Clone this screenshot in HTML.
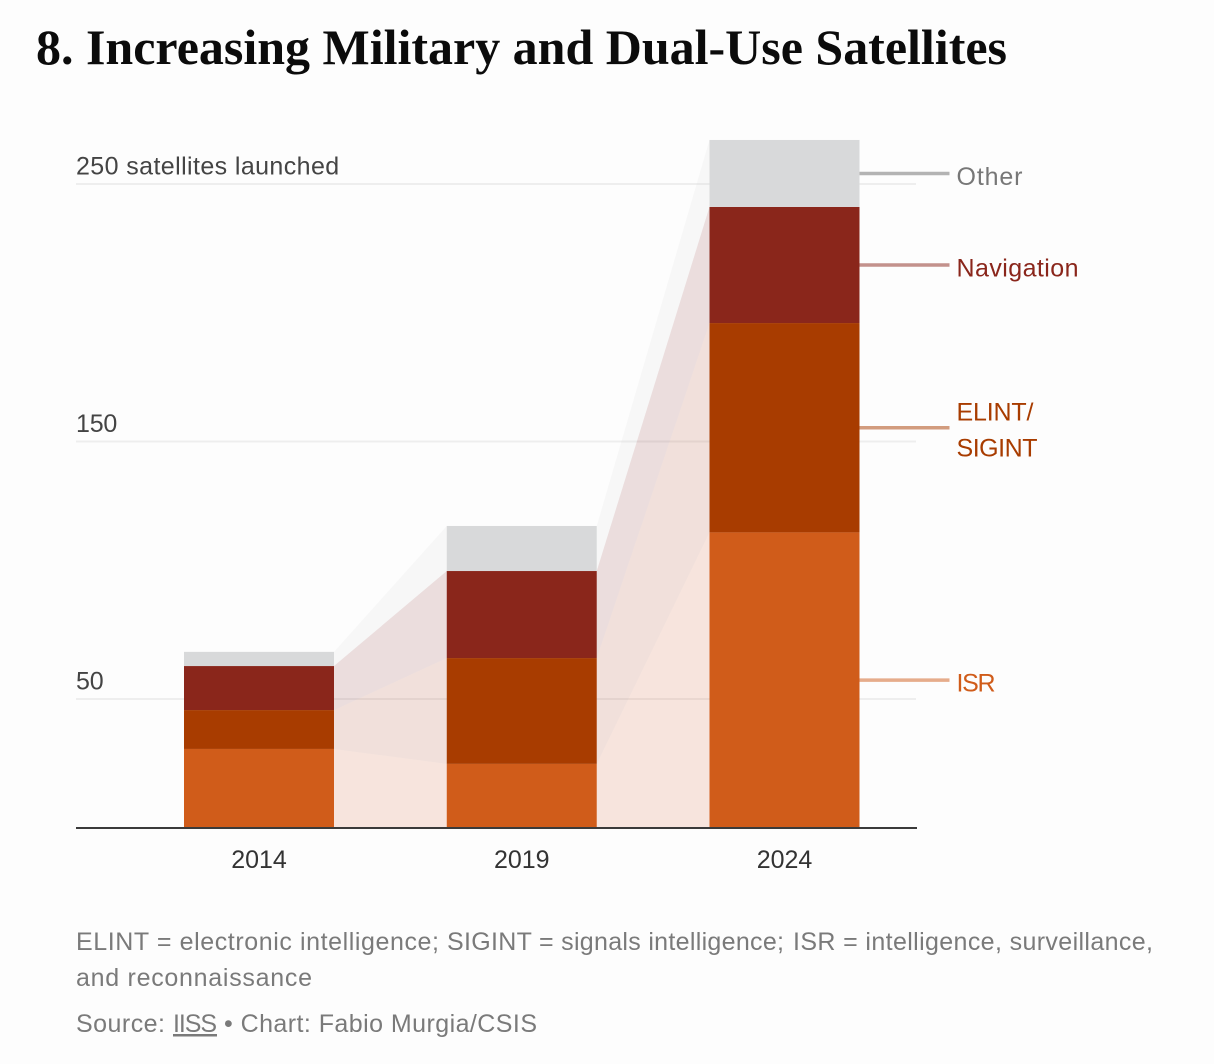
<!DOCTYPE html>
<html lang="en">
<head>
<meta charset="utf-8">
<title>Increasing Military and Dual-Use Satellites</title>
<style>
  html, body { margin: 0; padding: 0; background: #fdfdfd; }
  body { width: 1214px; height: 1064px; overflow: hidden; }
  svg { display: block; }
  .sans { font-family: "Liberation Sans", sans-serif; }
  .title { font-family: "Liberation Serif", serif; font-weight: 700; font-size: 50px; fill: #0b0b0b; }
  .note { font-family: "Liberation Sans", sans-serif; font-size: 25px; fill: #7a7a7a; }
</style>
</head>
<body>
<svg id="chart" width="1214" height="1064" viewBox="0 0 1214 1064" xmlns="http://www.w3.org/2000/svg">
  <rect width="1214" height="1064" fill="#fdfdfd"></rect>
  <text class="title" x="36" y="64" textLength="971" lengthAdjust="spacing">8. Increasing Military and Dual-Use Satellites</text>
  <g id="grid"></g>
  <g id="bands"></g>
  <g id="bars"></g>
  <g id="axis"></g>
  <g id="legend"></g>
  <g>
    <text class="note" x="76" y="950" textLength="363" lengthAdjust="spacing">ELINT = electronic intelligence;</text>
    <text class="note" x="447" y="950" textLength="337" lengthAdjust="spacing">SIGINT = signals intelligence;</text>
    <text class="note" x="793" y="950" textLength="360" lengthAdjust="spacing">ISR = intelligence, surveillance,</text>
    <text class="note" x="76" y="986" textLength="236" lengthAdjust="spacing">and reconnaissance</text>
  </g>
  <g>
    <text class="note" x="76" y="1032" textLength="89" lengthAdjust="spacing">Source:</text>
    <text class="note" x="173" y="1032" textLength="44" lengthAdjust="spacing" text-decoration="underline">IISS</text>
    <text class="note" x="224" y="1032" textLength="313" lengthAdjust="spacing">• Chart: Fabio Murgia/CSIS</text>
  </g>
</svg>
<script>
const categories = ['2014', '2019', '2024'];
const isrValues = [30.6, 24.8, 114.7];
const elintValues = [15.1, 41.1, 81.3];
const navigationValues = [17.1, 33.8, 45.1];
const otherValues = [5.5, 17.5, 26];
const yTickValues = [50, 150, 250];
const yTickLabels = ['50', '150', '250 satellites launched'];

const NS = 'http://www.w3.org/2000/svg';
const seriesList = [
  { key: 'isr', lines: ['ISR'], widths: [39], values: isrValues, fill: '#d05c1a', band: '#d86135', label: '#d05c1a' },
  { key: 'elint', lines: ['ELINT/', 'SIGINT'], widths: [77, 81], values: elintValues, fill: '#a83c00', band: '#b24829', label: '#a83c00' },
  { key: 'navigation', lines: ['Navigation'], widths: [122], values: navigationValues, fill: '#8a261b', band: '#8d3b35', label: '#8a261b' },
  { key: 'other', lines: ['Other'], widths: [66], values: otherValues, fill: '#d8d9da', band: '#d8d8d8', label: '#777777' }
];

const plotLeft = 76, plotRight = 916, baseY = 827.75, pxPerUnit = 2.575;
const barWidth = 150, firstCenter = 259, centerStep = 262.75, bandOpacity = 0.16;
const y = v => baseY - v * pxPerUnit;
const xCenter = i => firstCenter + i * centerStep;

function make(tag, attrs, parent) {
  const el = document.createElementNS(NS, tag);
  for (const k of Object.keys(attrs)) el.setAttribute(k, attrs[k]);
  parent.appendChild(el);
  return el;
}

const grid = document.getElementById('grid');
const bands = document.getElementById('bands');
const bars = document.getElementById('bars');
const axis = document.getElementById('axis');
const legend = document.getElementById('legend');

yTickValues.forEach((v, i) => {
  const line = make('line', { x1: plotLeft, x2: plotRight, y1: y(v), y2: y(v), stroke: '#eeeeee', 'stroke-width': 2 }, grid);
  
  
  const spacing = yTickLabels[i].length > 3 ? 0.4 : -0.2;
  const t = make('text', { x: plotLeft, y: y(v) - 9.5, class: 'sans', 'font-size': 25, fill: '#444444', 'letter-spacing': spacing }, axis);
  t.textContent = yTickLabels[i];
  
  
});

const stackBase = categories.map(() => 0);
seriesList.forEach(s => {
  const bottoms = stackBase.slice();
  const tops = bottoms.map((b, i) => b + s.values[i]);

  for (let i = 0; i < categories.length - 1; i++) {
    const xa = xCenter(i) + barWidth / 2;
    const xb = xCenter(i + 1) - barWidth / 2;
    const pts = [[xa, y(tops[i])], [xb, y(tops[i + 1])], [xb, y(bottoms[i + 1])], [xa, y(bottoms[i])]];
    const band = make('polygon', { points: pts.map(p => p.join(',')).join(' '), fill: s.band, 'fill-opacity': bandOpacity }, bands);
    
    
  }

  categories.forEach((c, i) => {
    const rect = make('rect', { x: xCenter(i) - barWidth / 2, y: y(tops[i]), width: barWidth, height: y(bottoms[i]) - y(tops[i]), fill: s.fill }, bars);
    
    
    stackBase[i] = tops[i];
  });

  const last = categories.length - 1;
  const mid = (y(tops[last]) + y(bottoms[last])) / 2;
  const leaderStart = xCenter(last) + barWidth / 2;
  const leader = make('line', { x1: leaderStart, x2: leaderStart + 90, y1: mid, y2: mid, stroke: s.label, 'stroke-opacity': s.key === 'other' ? 0.55 : 0.5, 'stroke-width': 3.5 }, legend);
  
  

  const firstOffset = s.lines.length > 1 ? -7 : 11.5;
  s.lines.forEach((txt, j) => {
    const t = make('text', { x: leaderStart + 97, y: mid + firstOffset + j * 36, class: 'sans', 'font-size': 25, fill: s.label, textLength: s.widths[j], lengthAdjust: 'spacing' }, legend);
    t.textContent = txt;
    
    
  });
});

const axisLine = make('line', { x1: plotLeft, x2: plotRight + 1, y1: baseY + 0.25, y2: baseY + 0.25, stroke: '#3a3a3a', 'stroke-width': 2 }, axis);



categories.forEach((c, i) => {
  const t = make('text', { x: xCenter(i), y: 868, class: 'sans', 'font-size': 25, 'text-anchor': 'middle', fill: '#333333' }, axis);
  t.textContent = c;
  
  
});
</script>
</body>
</html>
